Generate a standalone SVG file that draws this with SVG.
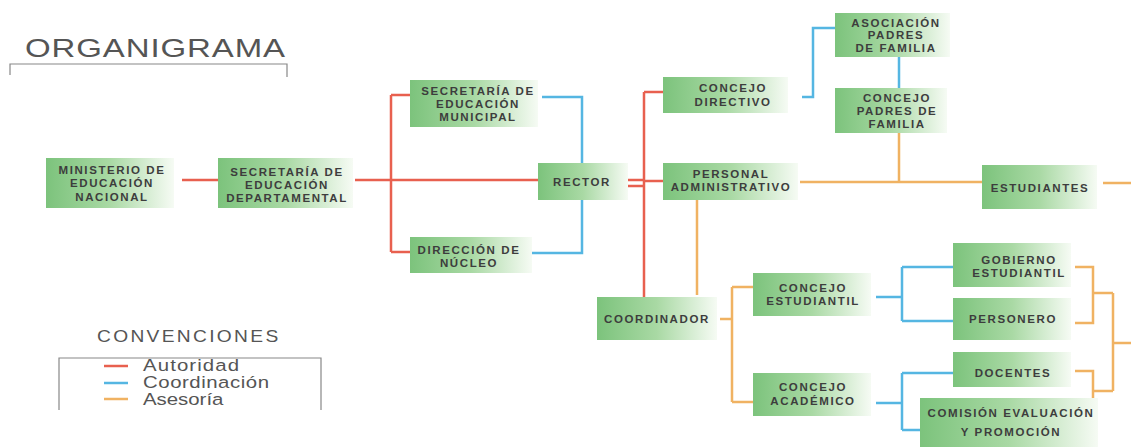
<svg xmlns="http://www.w3.org/2000/svg" width="1131" height="447" viewBox="0 0 1131 447">
<defs>
<linearGradient id="g" x1="0" y1="0" x2="1" y2="0">
<stop offset="0" stop-color="#7cc37c"/>
<stop offset="0.5" stop-color="#a9d9a4"/>
<stop offset="1" stop-color="#f6fbf4"/>
</linearGradient>
</defs>
<style>
.b{fill:url(#g)}
.t{font-family:"Liberation Sans",Arial,sans-serif;font-size:11.5px;letter-spacing:1.6px;fill:#3d3d3d;text-anchor:middle;font-weight:bold}
.r{stroke:#e8604f;stroke-width:2.5;fill:none}
.c{stroke:#55b6e2;stroke-width:2.5;fill:none}
.o{stroke:#f0b262;stroke-width:2.5;fill:none}
.h{font-family:"Liberation Sans",Arial,sans-serif;fill:#555}
.l{font-family:"Liberation Sans",Arial,sans-serif;font-size:17px;fill:#555}
.k{stroke:#888;stroke-width:1.2;fill:none}
</style>
<rect width="1131" height="447" fill="#ffffff"/>
<g id="title">
<text class="h" transform="translate(25,57) scale(1.32,1)" x="0" y="0" font-size="25" textLength="197" lengthAdjust="spacing">ORGANIGRAMA</text>
<path class="k" d="M10,75 V64 H287 V77"/>
</g>
<g id="connectors">
<path class="r" d="M182,180 H218 M355,180 H538 M391,95 V252 M391,95 H410 M391,252 H410 M625,180 H644 M625,186 H644 M644,92 V297 M644,92 H663 M644,181 H663"/>
<path class="c" d="M542,97 H582 V163 M582,200 V253 H532 M802,97 H813 V28 H835 M899,57 V88 M876,297 H902 M902,267 V321 M902,267 H953 M902,321 H953 M876,403 H902 M902,373 V430 M902,373 H953 M902,430 H920"/>
<path class="o" d="M899,133 V182 M800,182 H982 M1103,183 H1131 M697,200 V295 M720,319 H732 M732,287 V402 M732,287 H753 M732,402 H753 M1075,267 H1093 V323 H1075 M1093,293 H1113 M1075,371 H1093 V407 M1093,391 H1113 M1113,293 V391 M1113,343 H1131"/>
</g>
<g id="n-ministerio"><rect class="b" x="46" y="158" width="128" height="50"/>
<text class="t" x="112" y="174">MINISTERIO DE</text><text class="t" x="112" y="187">EDUCACIÓN</text><text class="t" x="112" y="201">NACIONAL</text></g>
<g id="n-secdep"><rect class="b" x="218" y="158" width="135" height="50"/>
<text class="t" x="287" y="176">SECRETARÍA DE</text><text class="t" x="287" y="189">EDUCACIÓN</text><text class="t" x="287" y="202">DEPARTAMENTAL</text></g>
<g id="n-secmun"><rect class="b" x="410" y="80" width="128" height="47"/>
<text class="t" x="478" y="95">SECRETARÍA DE</text><text class="t" x="478" y="108">EDUCACIÓN</text><text class="t" x="478" y="121">MUNICIPAL</text></g>
<g id="n-nucleo"><rect class="b" x="410" y="237" width="122" height="36"/>
<text class="t" x="469" y="254">DIRECCIÓN DE</text><text class="t" x="469" y="267">NÚCLEO</text></g>
<g id="n-rector"><rect class="b" x="538" y="163" width="90" height="37"/>
<text class="t" x="582" y="186">RECTOR</text></g>
<g id="n-directivo"><rect class="b" x="663" y="77" width="125" height="36"/>
<text class="t" x="733" y="92">CONCEJO</text><text class="t" x="733" y="106">DIRECTIVO</text></g>
<g id="n-asociacion"><rect class="b" x="835" y="13" width="115" height="44"/>
<text class="t" x="896" y="27">ASOCIACIÓN</text><text class="t" x="896" y="39">PADRES</text><text class="t" x="896" y="52">DE FAMILIA</text></g>
<g id="n-padres"><rect class="b" x="835" y="88" width="112" height="45"/>
<text class="t" x="897" y="102">CONCEJO</text><text class="t" x="897" y="115">PADRES DE</text><text class="t" x="897" y="128">FAMILIA</text></g>
<g id="n-personal"><rect class="b" x="663" y="163" width="135" height="37"/>
<text class="t" x="731" y="178">PERSONAL</text><text class="t" x="731" y="191">ADMINISTRATIVO</text></g>
<g id="n-estudiantes"><rect class="b" x="982" y="165" width="115" height="44"/>
<text class="t" x="1040" y="192">ESTUDIANTES</text></g>
<g id="n-coordinador"><rect class="b" x="597" y="297" width="120" height="43"/>
<text class="t" x="657" y="323">COORDINADOR</text></g>
<g id="n-estudiantil"><rect class="b" x="753" y="273" width="118" height="43"/>
<text class="t" x="813" y="292">CONCEJO</text><text class="t" x="813" y="305">ESTUDIANTIL</text></g>
<g id="n-academico"><rect class="b" x="753" y="373" width="118" height="43"/>
<text class="t" x="813" y="391">CONCEJO</text><text class="t" x="813" y="405">ACADÉMICO</text></g>
<g id="n-gobierno"><rect class="b" x="953" y="243" width="118" height="44"/>
<text class="t" x="1019" y="264">GOBIERNO</text><text class="t" x="1019" y="277">ESTUDIANTIL</text></g>
<g id="n-personero"><rect class="b" x="953" y="298" width="118" height="42"/>
<text class="t" x="1013" y="323">PERSONERO</text></g>
<g id="n-docentes"><rect class="b" x="953" y="352" width="118" height="35"/>
<text class="t" x="1013" y="377">DOCENTES</text></g>
<g id="n-comision"><rect class="b" x="920" y="398" width="178" height="49"/>
<text class="t" x="1011" y="417">COMISIÓN EVALUACIÓN</text><text class="t" x="1011" y="436">Y PROMOCIÓN</text></g>
<g id="legend">
<text class="h" transform="translate(97,342) scale(1.2,1)" x="0" y="0" font-size="16" textLength="151" lengthAdjust="spacing">CONVENCIONES</text>
<path class="k" d="M59,410 V358 H321 V410"/>
<path class="r" d="M104,366 H128"/>
<path class="c" d="M104,383 H128"/>
<path class="o" d="M104,399 H128"/>
<text class="l" transform="translate(143,371) scale(1.2,1)" x="0" y="0" textLength="80" lengthAdjust="spacing">Autoridad</text>
<text class="l" transform="translate(143,388) scale(1.2,1)" x="0" y="0" textLength="105" lengthAdjust="spacing">Coordinación</text>
<text class="l" transform="translate(143,405) scale(1.2,1)" x="0" y="0" textLength="67" lengthAdjust="spacing">Asesoría</text>
</g>
</svg>
